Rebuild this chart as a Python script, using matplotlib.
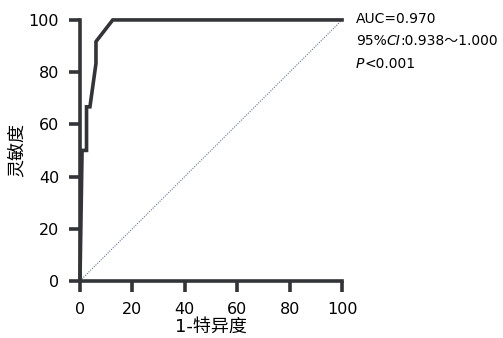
import matplotlib
matplotlib.use("Agg")
import matplotlib.pyplot as plt

plt.rcParams["font.family"] = ["DejaVu Sans", "Noto Sans CJK SC"]

# ROC curve points (1-specificity %, sensitivity %)
fpr = [0, 0.8, 2.5, 2.5, 3.8, 6.1, 6.1, 12.5, 100]
tpr = [0, 50, 50, 66.7, 66.7, 83.3, 91.7, 100, 100]
ticks = [0, 20, 40, 60, 80, 100]
LINE = "#333438"


def chain(ax, x, y, parts, size=10):
    """Draw text pieces one after another, each with its own style."""
    s, style = parts[0]
    last = ax.figure.text(x, y, s, fontsize=size, style=style, va="center")
    for s, style in parts[1:]:
        last = ax.annotate(s, xy=(1, 0.5), xycoords=last, va="center",
                           ha="left", fontsize=size, style=style,
                           annotation_clip=False)


fig = plt.figure(figsize=(5.03, 3.38), dpi=100)
ax = fig.add_axes([0.159, 0.169, 0.521, 0.772])

ax.plot([0, 100], [0, 100], linestyle=(0, (1, 1.2)), color="#6a7890",
        linewidth=0.8, zorder=2)
ax.plot(fpr, tpr, color=LINE, linewidth=2.6, solid_joinstyle="miter",
        clip_on=False, zorder=3)

ax.set_xlim(0, 100)
ax.set_ylim(0, 100)
ax.set_xticks(ticks)
ax.set_yticks(ticks)
for s in ("top", "right"):
    ax.spines[s].set_visible(False)
for s in ("left", "bottom"):
    ax.spines[s].set_linewidth(2.6)
    ax.spines[s].set_color(LINE)
ax.tick_params(direction="out", length=8, width=2.6, color=LINE,
               labelsize=11.5, pad=7)
ax.set_xlabel("1-特异度", fontsize=13, labelpad=1)
ax.set_ylabel("灵敏度", fontsize=13, labelpad=2)

chain(ax, 0.708, 0.945, [("AUC=0.970", "normal")])
chain(ax, 0.708, 0.878, [("95%", "normal"), ("CI", "italic"),
                         (":0.938～1.000", "normal")])
chain(ax, 0.708, 0.812, [("P", "italic"), ("<0.001", "normal")])

fig.savefig("out.png", dpi=100)
